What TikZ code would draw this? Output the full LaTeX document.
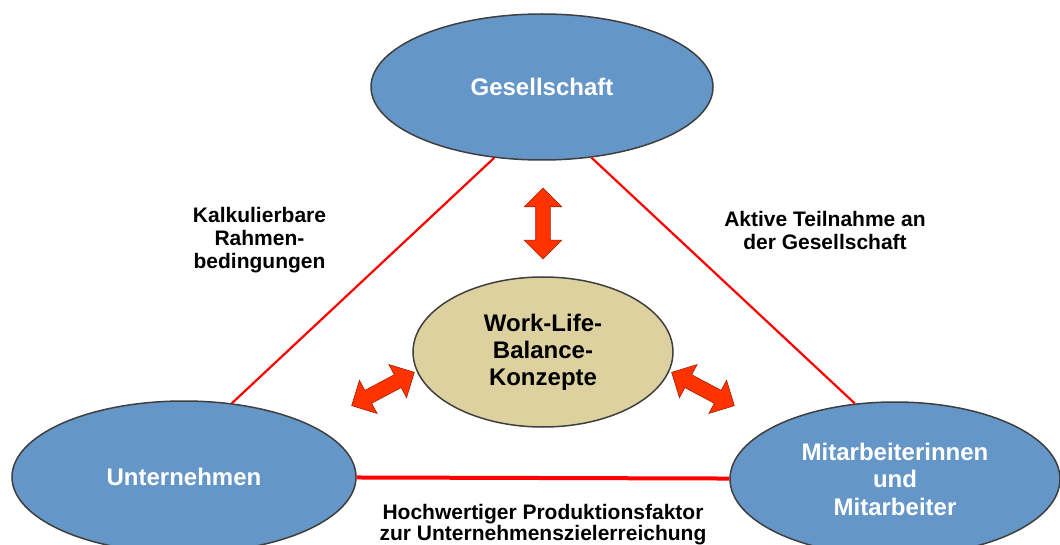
\documentclass[tikz,border=0pt]{standalone}
\usepackage{fontspec}
\setmainfont{Liberation Sans}
\usetikzlibrary{shapes.geometric,shapes.arrows}
\definecolor{partyblue}{HTML}{6596C8}
\definecolor{coretan}{HTML}{DDD29F}
\definecolor{rimgray}{HTML}{3F3F3F}
\definecolor{flowred}{HTML}{FF3300}
\definecolor{flowedge}{HTML}{A82000}
\begin{document}
\begin{tikzpicture}[x=1pt,y=-1pt,
  party/.style={ellipse, draw=rimgray, line width=1.5pt, fill=partyblue,
    text=white, inner sep=0pt, align=center,
    font=\bfseries\fontsize{24}{27.5}\selectfont},
  core/.style={ellipse, draw=rimgray, line width=1.5pt, fill=coretan,
    text=black, inner sep=0pt, align=center,
    font=\bfseries\fontsize{24}{27}\selectfont},
  link/.style={draw=red, line width=2.2pt},
  note/.style={align=center, inner sep=0pt, text=black,
    font=\bfseries\fontsize{21}{23}\selectfont},
  flow/.style={double arrow, double arrow head extend=11.5pt,
    double arrow tip angle=90, inner xsep=0pt, inner ysep=7pt,
    minimum height=71pt, fill=flowred, draw=flowedge, line width=0.6pt}]

\useasboundingbox (0,0) rectangle (1060,545);

% the three parties
\node[party, minimum width=342pt, minimum height=146pt] (G) at (542,87) {Gesellschaft};
\node[party, minimum width=344pt, minimum height=152pt] (U) at (184,477) {Unternehmen};
\node[party, minimum width=330pt, minimum height=154pt] (M) at (895,479)
  {Mitarbeiterinnen\\und\\Mitarbeiter};

% the concept in the middle
\node[core, minimum width=260pt, minimum height=150pt] (W) at (543,352)
  {Work-Life-\\Balance-\\Konzepte};

% relations between the parties
\draw[link] (G.-124) -- (U.57);
\draw[link] (G.-55) -- (M.118);
\draw[link, line width=4pt] (U) -- (M);

% mutual influence with the concept
\node[flow, rotate=90] (fG) at (543,223.5) {};
\node[flow, rotate=28] (fU) at (383,389) {};
\node[flow, rotate=-28] (fM) at (703,389) {};

% relation labels
\node[note] (lUG) at (259.5,240.5) {Kalkulierbare\\Rahmen-\\bedingungen};
\node[note] (lGM) at (825,230) {Aktive Teilnahme an\\der Gesellschaft};
\node[note, font=\bfseries\fontsize{21}{21.5}\selectfont] (lUM) at (543,524.5)
  {Hochwertiger Produktionsfaktor\\zur Unternehmenszielerreichung};
\end{tikzpicture}
\end{document}
